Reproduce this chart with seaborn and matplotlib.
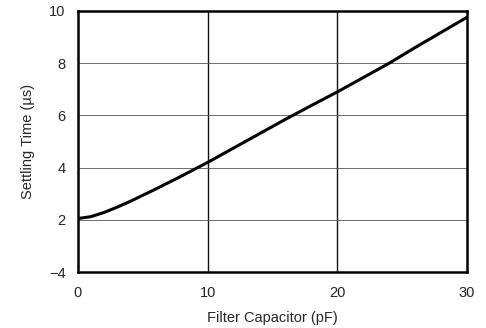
import numpy as np
import pandas as pd
import matplotlib
matplotlib.use("Agg")
import matplotlib.pyplot as plt
import seaborn as sns

# curve
cap_pf = [0, 1, 2, 3, 4, 5, 6, 7, 8, 9, 10, 12, 14, 16, 18, 20, 22, 24, 26, 28, 30]
settle_us = [2.05, 2.12, 2.28, 2.48, 2.7, 2.94, 3.18, 3.43, 3.68, 3.94, 4.2,
             4.75, 5.3, 5.85, 6.38, 6.9, 7.45, 8.0, 8.6, 9.18, 9.76]

x_ticks = [0, 10, 20, 30]
y_ticks = [0, 2, 4, 6, 8, 10]
y_tick_labels = ["\u22124", "2", "4", "6", "8", "10"]

df = pd.DataFrame({"cap": cap_pf, "t": settle_us})

sns.set_style("white")
plt.rcParams['font.family'] = ['Liberation Sans', 'DejaVu Sans']

fig = plt.figure(figsize=(4.86, 3.28), dpi=100)
ax = fig.add_axes([78 / 486, 1 - 272 / 328, 389 / 486, 261 / 328])

# grid: vertical lines dark, horizontal thin grey
for xv in x_ticks[1:-1]:
    ax.axvline(xv, color="#111111", lw=1.0, zorder=1)
for yv in y_ticks[1:-1]:
    ax.axhline(yv, color="#555555", lw=0.6, zorder=1)

sns.lineplot(data=df, x="cap", y="t", color="black", lw=2.2, ax=ax, zorder=3)

ax.set_xlim(0, 30)
ax.set_ylim(0, 10)
ax.set_xticks(x_ticks)
ax.set_yticks(y_ticks)
ax.set_yticklabels(y_tick_labels)
ax.tick_params(length=0, labelsize=10.5, pad=9)
ax.tick_params(axis="x", pad=10)
ax.set_xlabel("Filter Capacitor (pF)", fontsize=10.5, labelpad=8)
ax.set_ylabel("Settling Time (\u00b5s)", fontsize=10.5, labelpad=10)

for s in ax.spines.values():
    s.set_visible(True)
    s.set_color("black")
    s.set_linewidth(1.8)

fig.savefig("out.png", dpi=100)
